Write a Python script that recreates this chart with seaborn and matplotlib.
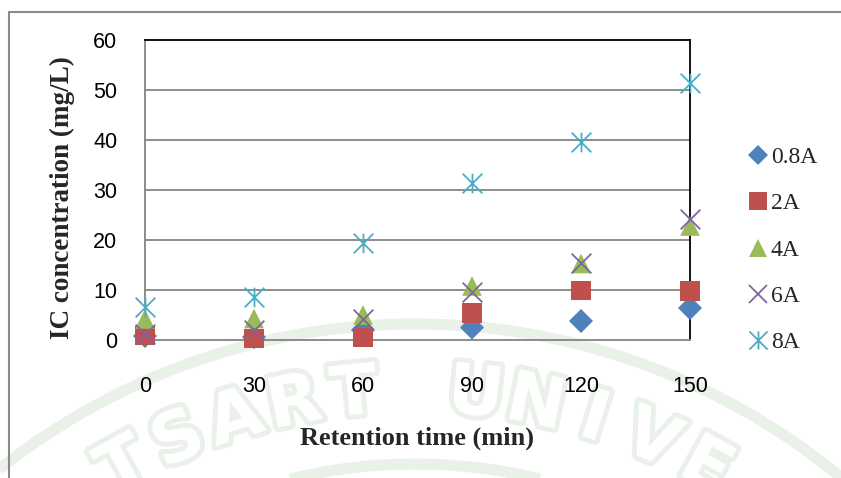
import numpy as np
import pandas as pd
import matplotlib
matplotlib.use("Agg")
import matplotlib.pyplot as plt
import matplotlib.patheffects as pe
from matplotlib.path import Path
from matplotlib.lines import Line2D
import seaborn as sns

# Ion concentration measured over retention time for each applied current
time_min = [0, 30, 60, 90, 120, 150]
series_names = ["0.8A", "2A", "4A", "6A", "8A"]
ic_08a = [0.8, 0.6, 2.0, 2.5, 3.8, 6.4]
ic_2a = [0.9, 0.3, 0.5, 5.4, 9.9, 9.8]
ic_4a = [4.2, 4.3, 5.0, 10.8, 15.3, 22.8]
ic_6a = [1.3, 2.1, 4.3, 9.7, 15.4, 24.3]
ic_8a = [6.7, 8.7, 19.5, 31.4, 39.6, 51.5]
y_ticks = [0, 10, 20, 30, 40, 50, 60]
x_ticks = [0, 30, 60, 90, 120, 150]

sns.set_theme(style="white")
plt.rcParams["font.family"] = ["Liberation Sans", "DejaVu Sans"]

W, H = 841, 478
fig = plt.figure(figsize=(W / 100, H / 100), dpi=100)
fig.patch.set_facecolor("white")

def fx(px):
    return px / W

def fy(py):
    return 1 - py / H

# faint university seal watermark behind the chart
wm = fig.add_axes([0, 0, 1, 1], zorder=-5)
wm.set_xlim(0, W)
wm.set_ylim(H, 0)
wm.axis("off")
wm_col = "#e9f1e9"
cx, cy = 415, 992
for r, lw in [(668, 8), (528, 8)]:
    t = np.linspace(np.pi * 1.05, np.pi * 1.95, 400)
    wm.plot(cx + r * np.cos(t), cy + r * np.sin(t), color=wm_col, lw=lw,
            solid_capstyle="butt")
seal_word = "KASETSART UNIVERSITY"
for i, ch in enumerate(seal_word):
    theta = np.radians((i - 9) * 5.8)
    px = cx + 600 * np.sin(theta)
    py = cy - 600 * np.cos(theta)
    if ch == " " or not (0 < px < W and py < H):
        continue
    wm.text(px, py, ch, color="white", fontsize=50, fontweight="bold",
            ha="center", va="center", rotation=-np.degrees(theta),
            family=["Liberation Sans Narrow", "DejaVu Sans"],
            path_effects=[pe.withStroke(linewidth=7, foreground=wm_col)])

# outer chart frame
fig.add_artist(Line2D([fx(9), 1], [fy(12), fy(12)], color="#8a8a8a", lw=1.5))
fig.add_artist(Line2D([fx(9), fx(9)], [0, fy(12)], color="#8a8a8a", lw=1.5))

ax = fig.add_axes([fx(145), fy(340), fx(690) - fx(145), fy(40) - fy(340)])
ax.set_facecolor("none")

grid_col = "#8c8c8c"

asterisk = Path(
    [(0, -1), (0, 1), (-1, -1), (1, 1), (-1, 1), (1, -1)],
    [Path.MOVETO, Path.LINETO, Path.MOVETO, Path.LINETO, Path.MOVETO, Path.LINETO],
)

styles = [
    (ic_08a, "#4F81BD", "D", 150, 0.0),
    (ic_2a, "#C0504D", "s", 200, 0.0),
    (ic_4a, "#9BBB59", "^", 200, 0.0),
    (ic_6a, "#8064A2", "x", 200, 1.3),
    (ic_8a, "#4BACC6", asterisk, 200, 1.3),
]

handles = []
for name, (vals, col, mk, size, lw) in zip(series_names, styles):
    df = pd.DataFrame({"t": time_min, "c": vals})
    sns.scatterplot(data=df, x="t", y="c", ax=ax, marker=mk, s=size,
                    color=col, edgecolor=col if lw > 0 else "none",
                    linewidth=lw, clip_on=False, zorder=3, legend=False)
    handles.append(Line2D([], [], linestyle="none", marker=mk,
                          markersize=np.sqrt(size) * (0.8 if mk == "D" else 0.92),
                          markerfacecolor=col if lw == 0 else "none",
                          markeredgecolor=col, markeredgewidth=lw if lw > 0 else 0))

ax.set_xlim(0, 150)
ax.set_ylim(0, 60)
ax.set_xticks(x_ticks)
ax.set_yticks(y_ticks)
ax.set_xticklabels([str(v) for v in x_ticks])
ax.set_yticklabels([str(v) for v in y_ticks])
ax.tick_params(axis="x", length=0, pad=26, labelsize=15.5, colors="black")
ax.tick_params(axis="y", length=0, pad=20, labelsize=15.5, colors="black")
for v in y_ticks[1:-1]:
    ax.axhline(v, color=grid_col, lw=1.4, zorder=1)
for side in ["top", "right"]:
    ax.spines[side].set_color("black")
    ax.spines[side].set_linewidth(1.3)
for side in ["left", "bottom"]:
    ax.spines[side].set_color(grid_col)
    ax.spines[side].set_linewidth(1.4)
ax.set_xlabel("")
ax.set_ylabel("")

fig.text(fx(417), fy(438), "Retention time (min)", ha="center", va="center",
         fontsize=19, fontweight="bold", family=["Liberation Serif"])
fig.text(fx(62), fy(198), "IC concentration (mg/L)", ha="center", va="center",
         rotation=90, fontsize=19.5, fontweight="bold", family=["Liberation Serif"])

leg = fig.legend(handles, series_names, loc="center left",
                 bbox_to_anchor=(fx(749), fy(250)), frameon=False,
                 borderpad=0, borderaxespad=0, handlelength=0.8,
                 handletextpad=0.12, labelspacing=1.05,
                 prop={"family": "Liberation Serif", "size": 17})

fig.savefig("out.png", dpi=100, facecolor="white")
